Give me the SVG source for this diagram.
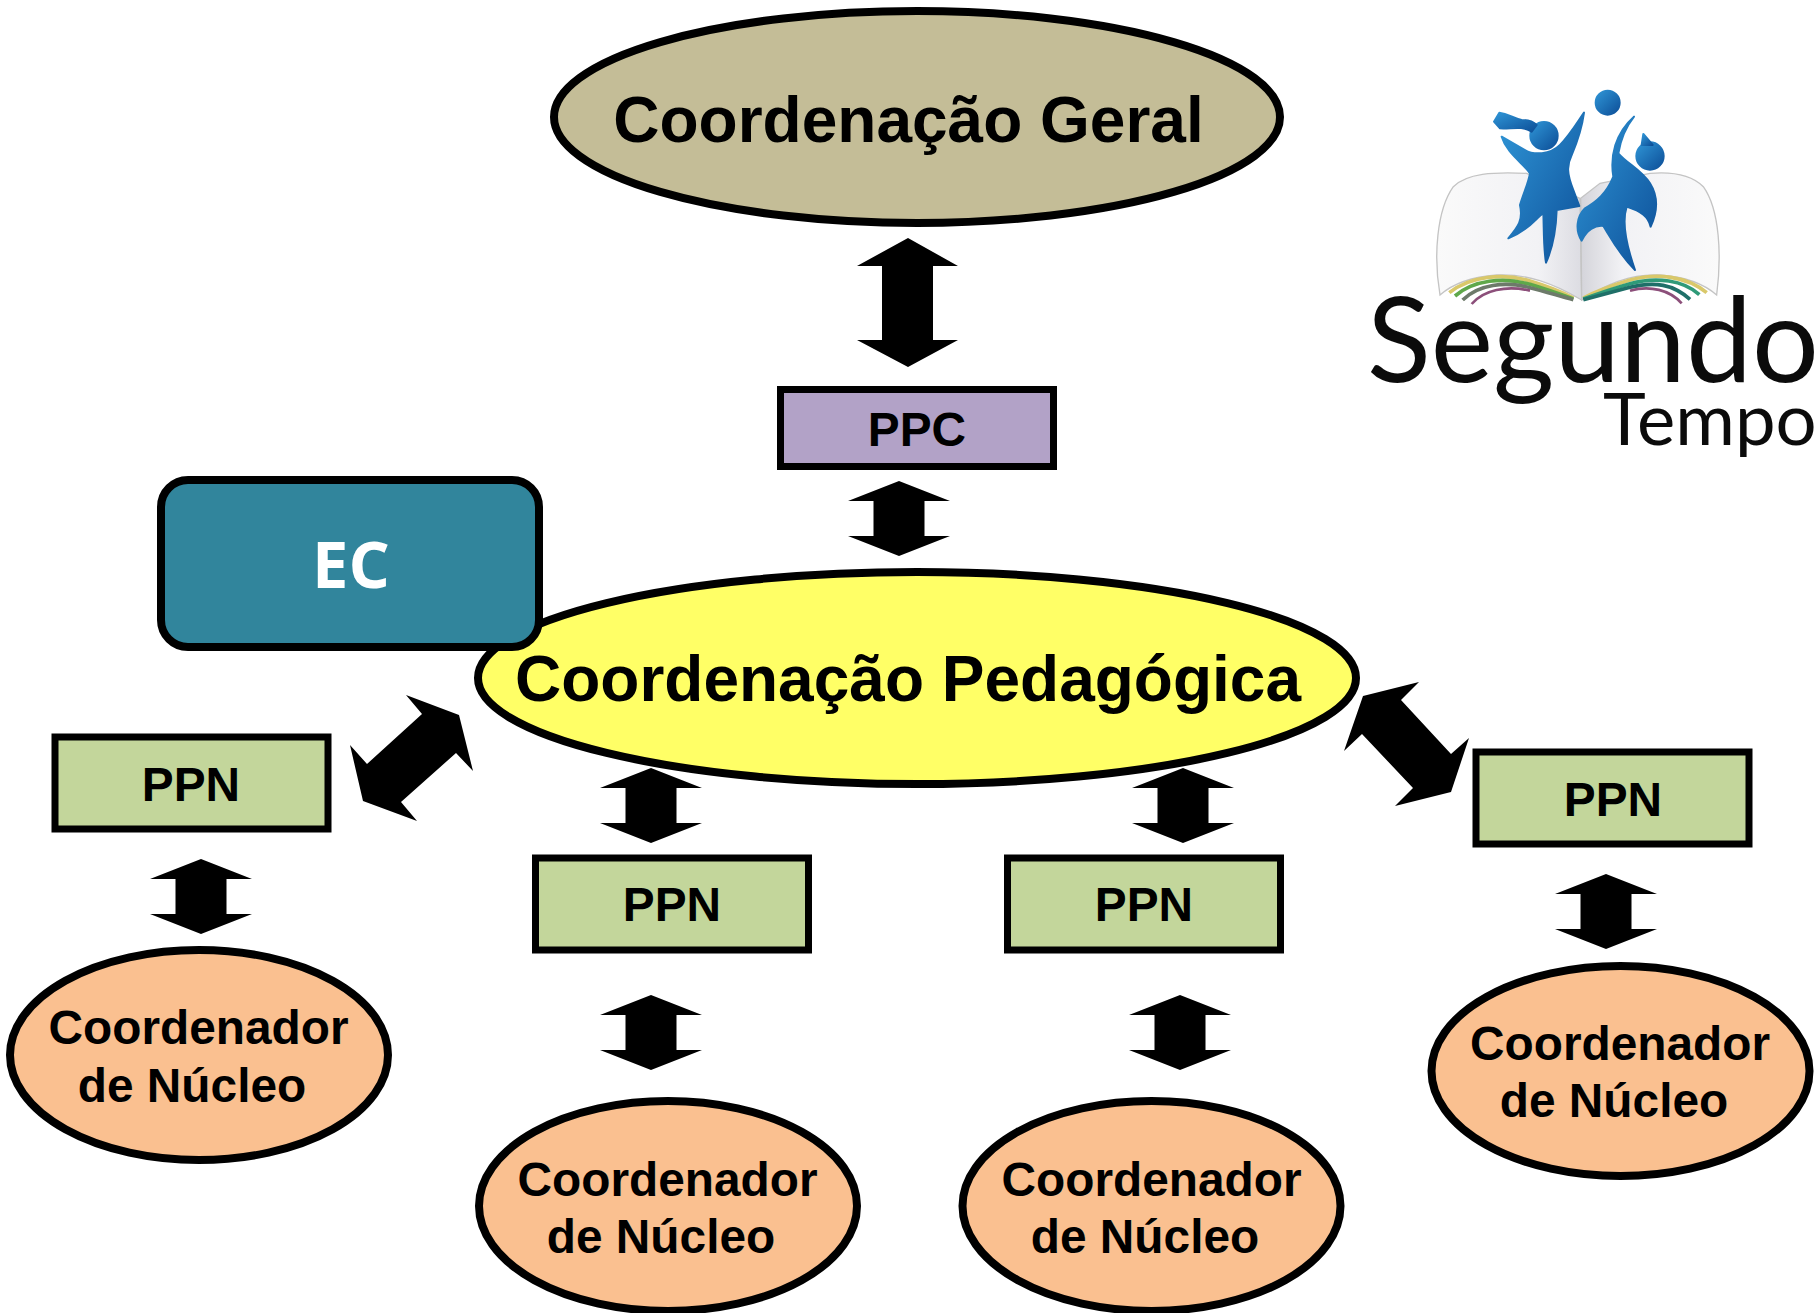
<svg xmlns="http://www.w3.org/2000/svg" xmlns:xlink="http://www.w3.org/1999/xlink" width="1820" height="1313" viewBox="0 0 1820 1313">
<style>
.n{stroke:#000;stroke-width:7}
.e{stroke-width:8}
.t{font-family:"Liberation Sans",Arial,sans-serif;font-weight:700;fill:#000;text-anchor:middle}
.big{font-size:64px}.mid{font-size:47.800px}
.ppn{fill:#C3D69B}.cn{fill:#FAC090}
.logo{font-family:Lato,"Open Sans",sans-serif;fill:#0b0b0b}
</style>
<defs>
<linearGradient id="blue" x1="0" y1="0" x2="1" y2="1"><stop offset="0" stop-color="#2f95d6"/><stop offset="1" stop-color="#0d4f98"/></linearGradient>
<linearGradient id="page" x1="0" y1="0" x2="1" y2="0"><stop offset="0" stop-color="#fafafa"/><stop offset=".7" stop-color="#f2f2f5"/><stop offset="1" stop-color="#dcdce2"/></linearGradient>
<linearGradient id="page2" x1="1" y1="0" x2="0" y2="0"><stop offset="0" stop-color="#fafafa"/><stop offset=".7" stop-color="#f2f2f5"/><stop offset="1" stop-color="#d4d4da"/></linearGradient>
<polygon id="a" points="0,-37 51,-17 25.500,-17 25.500,18 51,18 0,38 -51,18 -25.500,18 -25.500,-17 -51,-17"/>
</defs>
<rect width="1820" height="1313" fill="#fff"/>

<g id="connectors" fill="#000">
<polygon points="908,238 958,266 933,266 933,340 958,340 908,367 857,340 882,340 882,266 857,266"/>
<use xlink:href="#a" href="#a" x="899" y="518"/>
<polygon points="406,695 459,715 473,771 456,753 401,802 417,821 363,801 350,745 367,764 422,714"/>
<polygon points="1419,682 1363,696 1344,751 1362,734 1413,788 1395,806 1451,792 1469,738 1451,754 1401,700"/>
<use xlink:href="#a" href="#a" x="651" y="805"/>
<use xlink:href="#a" href="#a" x="1183" y="805"/>
<use xlink:href="#a" href="#a" x="201" y="896"/>
<use xlink:href="#a" href="#a" x="1606" y="911"/>
<use xlink:href="#a" href="#a" x="651" y="1032"/>
<use xlink:href="#a" href="#a" x="1180" y="1032"/>
</g>

<g id="coord-geral"><ellipse class="n e" cx="917" cy="117" rx="363" ry="106" fill="#C4BD97"/><text class="t big" x="908.500" y="142">Coordenação Geral</text></g>
<g id="ppc"><rect class="n" x="780.500" y="389.500" width="273" height="77" fill="#B2A2C7"/><text class="t mid" x="917" y="446">PPC</text></g>
<g id="coord-ped"><ellipse class="n e" cx="917" cy="678" rx="439" ry="106" fill="#FFFF66"/><text class="t big" x="908" y="701">Coordenação Pedagógica</text></g>
<g id="ec"><rect class="n e" x="161" y="480" width="378" height="167" rx="27" fill="#31859C"/><text x="351" y="588" font-family="Open Sans,Noto Sans,sans-serif" font-weight="700" font-size="65" fill="#fff" text-anchor="middle">EC</text></g>

<g id="ppn-1"><rect class="n ppn" x="55" y="737" width="273" height="92"/><text class="t mid" x="191" y="801">PPN</text></g>
<g id="ppn-2"><rect class="n ppn" x="535.500" y="858" width="273" height="92"/><text class="t mid" x="672" y="921">PPN</text></g>
<g id="ppn-3"><rect class="n ppn" x="1007.500" y="858" width="273" height="92"/><text class="t mid" x="1144" y="921">PPN</text></g>
<g id="ppn-4"><rect class="n ppn" x="1476" y="752" width="273" height="92"/><text class="t mid" x="1613" y="816">PPN</text></g>

<g id="cn-1"><ellipse class="n e cn" cx="199" cy="1055" rx="189" ry="105"/><text class="t mid" x="198.500" y="1044">Coordenador</text><text class="t mid" x="192" y="1102">de Núcleo</text></g>
<g id="cn-2"><ellipse class="n e cn" cx="668" cy="1206" rx="189" ry="105"/><text class="t mid" x="667.500" y="1196">Coordenador</text><text class="t mid" x="661" y="1253">de Núcleo</text></g>
<g id="cn-3"><ellipse class="n e cn" cx="1151.500" cy="1206" rx="189" ry="105"/><text class="t mid" x="1151.500" y="1196">Coordenador</text><text class="t mid" x="1145" y="1253">de Núcleo</text></g>
<g id="cn-4"><ellipse class="n e cn" cx="1620.500" cy="1071" rx="189" ry="105"/><text class="t mid" x="1620" y="1060">Coordenador</text><text class="t mid" x="1614" y="1117">de Núcleo</text></g>

<g id="logo">
<g transform="translate(1340,70) scale(.33333)">
<path d="M300,675C280,560 290,420 340,350C380,310 460,305 560,310L720,385L725,690C640,640 560,610 470,615C400,620 340,640 300,675Z" fill="url(#page)" stroke="#c4c4c4" stroke-width="4"/>
<path d="M1130,675C1145,560 1140,420 1090,350C1050,310 990,305 930,310L780,340L722,385L725,690C800,640 880,610 960,615C1030,620 1090,640 1130,675Z" fill="url(#page2)" stroke="#c4c4c4" stroke-width="4"/>
<g fill="none" stroke-width="11">
<path d="M328,668C390,618 490,608 570,633C620,648 670,668 700,684" stroke="#d9c86a"/>
<path d="M345,678C400,630 490,620 570,643C620,658 670,676 700,687" stroke="#5fa84a"/>
<path d="M368,690C415,643 495,633 570,653C620,666 665,680 700,689" stroke="#6d7a6a"/>
<path d="M395,702C430,660 500,645 570,662" stroke="#8c4f7a" stroke-width="8"/>
<path d="M1100,668C1040,618 950,608 870,630C810,648 760,668 730,684" stroke="#d9c86a"/>
<path d="M1078,674C1030,630 950,620 870,641C810,658 760,676 730,687" stroke="#2f9a78"/>
<path d="M1050,688C1000,643 945,633 870,652C810,668 765,680 730,689" stroke="#1f6f68"/>
<path d="M1025,700C990,660 930,645 870,662" stroke="#8c4f7a" stroke-width="8"/>
</g>
<g fill="url(#blue)" stroke="url(#blue)" stroke-width="6" stroke-linejoin="round">
<circle cx="803" cy="98" r="36"/>
<circle cx="612" cy="197" r="41"/>
<path d="M575,185C545,165 510,178 480,175L462,155L478,128C505,132 520,145 545,150C565,150 580,155 590,165Z"/>
<path d="M485,200L555,240C580,255 630,255 660,225C690,195 710,160 732,128C725,180 710,220 695,255C680,285 680,310 700,360L718,408L650,420C648,480 635,540 618,578C610,530 612,470 610,430C590,440 570,480 505,505C535,470 550,450 540,405C550,370 565,340 570,310C550,280 500,250 485,200Z"/>
<circle cx="930" cy="258" r="41"/>
<path d="M905,225L910,192L938,225Z"/>
<path d="M882,140C850,180 840,220 835,250C860,280 905,300 930,340C955,380 955,420 932,470C925,440 905,425 860,410C850,440 850,500 885,600C835,550 810,500 790,468C765,465 740,480 725,512C705,480 710,440 735,415C770,395 800,370 820,320C810,260 825,190 882,140Z"/>
</g>
</g>
<text class="logo" x="1367" y="382" font-size="118">Segundo</text>
<text class="logo" x="1603" y="445" font-size="72.500">Tempo</text>
</g>
</svg>
